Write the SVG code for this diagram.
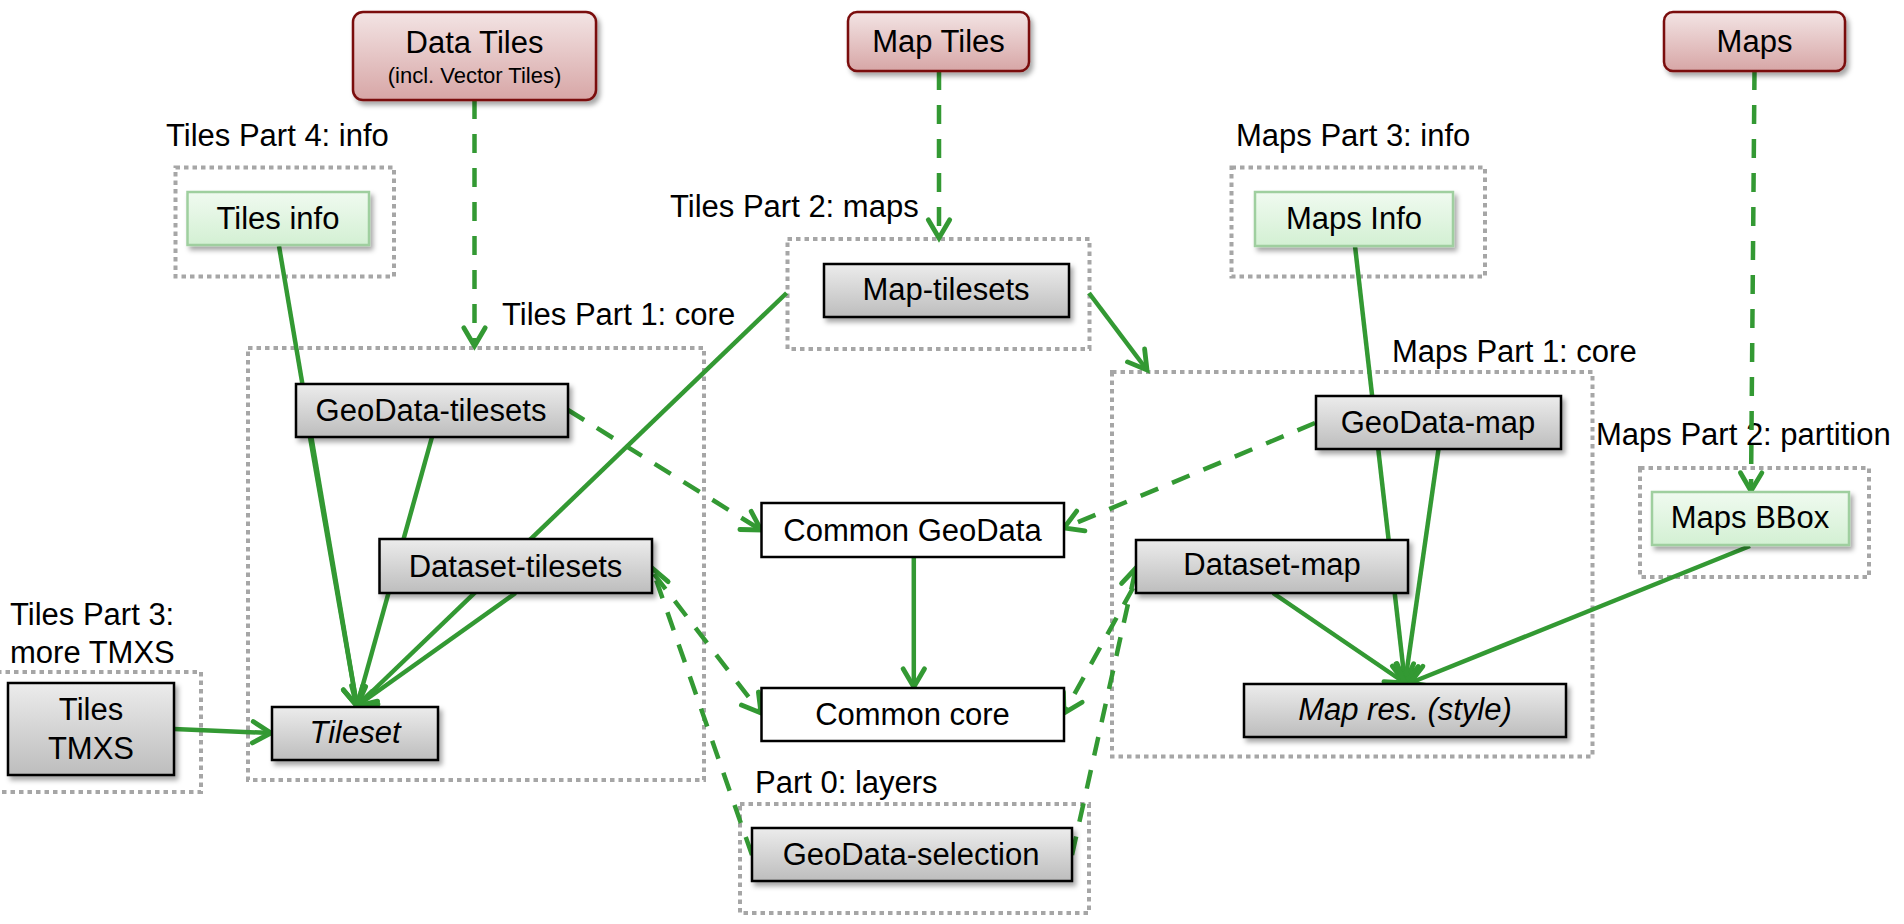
<svg xmlns="http://www.w3.org/2000/svg" width="1904" height="924" viewBox="0 0 1904 924">
<defs>
<linearGradient id="gGray" x1="0" y1="0" x2="0" y2="1"><stop offset="0" stop-color="#ececec"/><stop offset="1" stop-color="#bdbdbd"/></linearGradient>
<linearGradient id="gRed" x1="0" y1="0" x2="0" y2="1"><stop offset="0" stop-color="#f3e4e4"/><stop offset="1" stop-color="#d7a6a6"/></linearGradient>
<linearGradient id="gGreen" x1="0" y1="0" x2="0" y2="1"><stop offset="0" stop-color="#f0faf0"/><stop offset="1" stop-color="#d3f0d3"/></linearGradient>
<filter id="sh" x="-10%" y="-20%" width="130%" height="150%"><feDropShadow dx="3" dy="4" stdDeviation="2.5" flood-color="#000" flood-opacity="0.35"/></filter>
<marker id="ah" markerUnits="userSpaceOnUse" markerWidth="30" markerHeight="30" viewBox="-20 -14 24 28" refX="0" refY="0" orient="auto">
<path d="M-17,-10 L0,0 L-17,10" fill="none" stroke="#339933" stroke-width="4.5" stroke-linecap="round" stroke-linejoin="miter"/>
</marker>
<style>
text{font-family:"Liberation Sans",Arial,sans-serif;font-size:31px;fill:#000}
.c{text-anchor:middle}
.sm{font-size:22px}
.it{font-style:italic}
.grp{fill:none;stroke:#a6a6a6;stroke-width:4;stroke-dasharray:4.5 4}
.gray{fill:url(#gGray);stroke:#000;stroke-width:2.5;filter:url(#sh)}
.red{fill:url(#gRed);stroke:#7a0a0a;stroke-width:2.5;filter:url(#sh)}
.green{fill:url(#gGreen);stroke:#9fcf9f;stroke-width:2.5;filter:url(#sh)}
.white{fill:#fff;stroke:#000;stroke-width:2.5}
.e{fill:none;stroke:#339933;stroke-width:4.5;marker-end:url(#ah)}
.d{stroke-dasharray:19 15}
.n{marker-end:none}
</style>
</defs>
<rect width="1904" height="924" fill="#fff"/>

<g id="groups">
<rect class="grp" x="175.5" y="167.5" width="218.5" height="109"/>
<rect class="grp" x="248" y="348" width="456" height="432"/>
<rect class="grp" x="787.5" y="239" width="302" height="110"/>
<rect class="grp" x="-3" y="672" width="204" height="120"/>
<rect class="grp" x="740" y="804" width="349" height="109"/>
<rect class="grp" x="1231.5" y="167.5" width="253.5" height="109"/>
<rect class="grp" x="1112" y="372" width="480.5" height="384.5"/>
<rect class="grp" x="1640" y="468" width="229" height="109"/>
</g>

<g id="labels">
<text x="166" y="146">Tiles Part 4: info</text>
<text x="502" y="325">Tiles Part 1: core</text>
<text x="670" y="217">Tiles Part 2: maps</text>
<text x="10" y="625">Tiles Part 3:</text>
<text x="10" y="663">more TMXS</text>
<text x="755" y="793">Part 0: layers</text>
<text x="1236" y="146">Maps Part 3: info</text>
<text x="1392" y="362">Maps Part 1: core</text>
<text x="1596" y="445">Maps Part 2: partition</text>
</g>

<g id="connectors">
<line class="e" x1="279" y1="246" x2="357" y2="706"/>
<line class="e" x1="310" y1="437" x2="357" y2="706"/>
<line class="e" x1="432" y1="437" x2="357" y2="706"/>
<line class="e" x1="515.6" y1="593" x2="357" y2="706"/>
<line class="e" x1="786.6" y1="293" x2="357" y2="706"/>
<line class="e" x1="174" y1="729" x2="271" y2="733"/>
<line class="e" x1="913.8" y1="557" x2="913.8" y2="687"/>
<line class="e" x1="1089" y1="293" x2="1147" y2="370"/>
<line class="e" x1="1355" y1="246" x2="1405" y2="683"/>
<line class="e" x1="1438.5" y1="449" x2="1405" y2="683"/>
<line class="e" x1="1273" y1="593" x2="1405" y2="683"/>
<line class="e" x1="1750" y1="546" x2="1410" y2="683"/>
<line class="e d" x1="474.5" y1="100" x2="474.5" y2="346"/>
<line class="e d" x1="939" y1="71" x2="939" y2="238"/>
<line class="e d" x1="1754.5" y1="71" x2="1751" y2="491"/>
<line class="e d" x1="568" y1="410" x2="761" y2="530"/>
<line class="e d" x1="1315" y1="423" x2="1064" y2="528"/>
<line class="e d" x1="654" y1="574" x2="761" y2="713"/>
<line class="e d" x1="752" y1="855" x2="652" y2="568"/>
<line class="e d" x1="1133" y1="588" x2="1064" y2="713"/>
<line class="e d" x1="1072" y1="855" x2="1136" y2="568"/>
</g>

<g id="n-datatiles"><rect class="red" x="353" y="12" width="243" height="88" rx="10"/><text class="c" x="474.5" y="53">Data Tiles</text><text class="c sm" x="474.5" y="83">(incl. Vector Tiles)</text></g>
<g id="n-maptiles"><rect class="red" x="848" y="12" width="181" height="59" rx="9"/><text class="c" x="938.5" y="52">Map Tiles</text></g>
<g id="n-maps"><rect class="red" x="1664" y="12" width="181" height="59" rx="9"/><text class="c" x="1754.5" y="52">Maps</text></g>
<g id="n-tilesinfo"><rect class="green" x="187.5" y="192" width="181.5" height="53"/><text class="c" x="278" y="229">Tiles info</text></g>
<g id="n-mapsinfo"><rect class="green" x="1255" y="192" width="198" height="54"/><text class="c" x="1354" y="229">Maps Info</text></g>
<g id="n-mapsbbox"><rect class="green" x="1652" y="492" width="197" height="53"/><text class="c" x="1750" y="528">Maps BBox</text></g>
<g id="n-maptilesets"><rect class="gray" x="824" y="264" width="245" height="53"/><text class="c" x="946" y="300">Map-tilesets</text></g>
<g id="n-geodatatilesets"><rect class="gray" x="296" y="384" width="272" height="53"/><text class="c" x="431" y="421">GeoData-tilesets</text></g>
<g id="n-datasettilesets"><rect class="gray" x="379.5" y="539" width="272.5" height="54"/><text class="c" x="515.5" y="577">Dataset-tilesets</text></g>
<g id="n-tileset"><rect class="gray" x="272" y="707" width="166" height="53"/><text class="c it" x="355" y="743">Tileset</text></g>
<g id="n-tilestmxs"><rect class="gray" x="8" y="683" width="166" height="92"/><text class="c" x="91" y="720">Tiles</text><text class="c" x="91" y="759">TMXS</text></g>
<g id="n-commongeodata"><rect class="white" x="761.5" y="503" width="302.5" height="54"/><text class="c" x="912.5" y="541">Common GeoData</text></g>
<g id="n-commoncore"><rect class="white" x="761.5" y="688" width="302.5" height="53"/><text class="c" x="912.5" y="725">Common core</text></g>
<g id="n-geodataselection"><rect class="gray" x="752" y="828" width="320" height="53"/><text class="c" x="911" y="865">GeoData-selection</text></g>
<g id="n-geodatamap"><rect class="gray" x="1316" y="396" width="245" height="53"/><text class="c" x="1438" y="433">GeoData-map</text></g>
<g id="n-datasetmap"><rect class="gray" x="1136" y="540" width="272" height="53"/><text class="c" x="1272" y="575">Dataset-map</text></g>
<g id="n-mapres"><rect class="gray" x="1244" y="684" width="322" height="53"/><text class="c it" x="1405" y="720">Map res. (style)</text></g>
</svg>
